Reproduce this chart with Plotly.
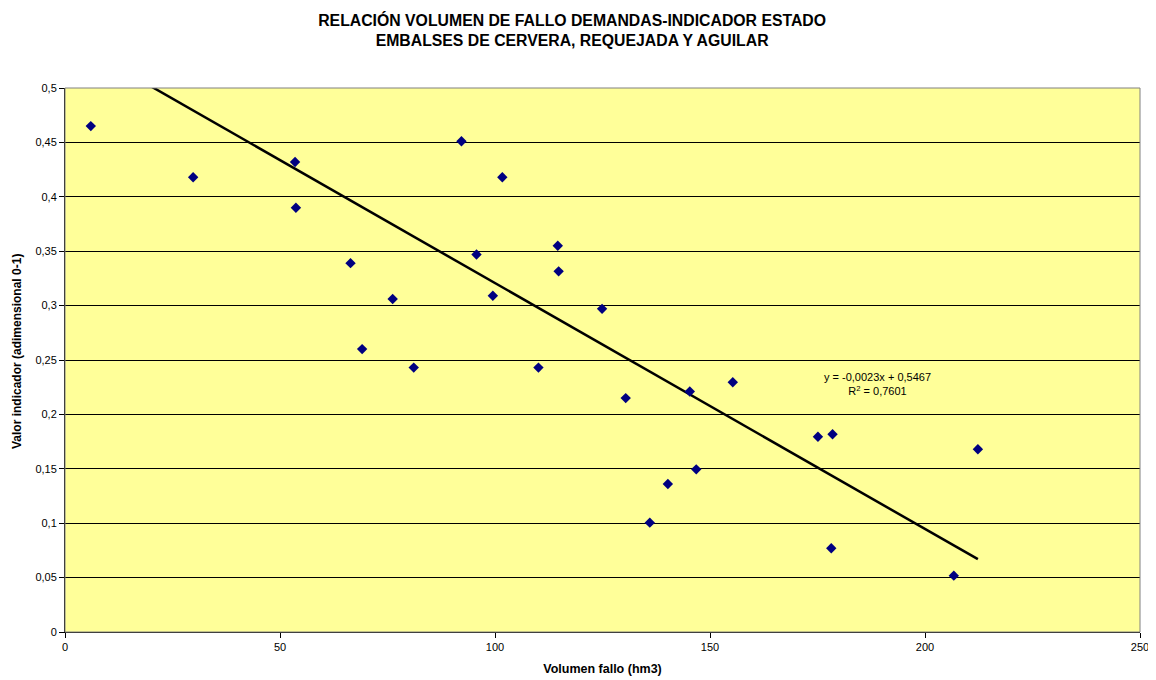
import numpy as np
import plotly.graph_objects as go

volumen_fallo = [6.0, 29.8, 53.5, 53.7, 66.4, 76.2, 69.1, 81.1, 92.2, 95.7, 99.5,
                 101.7, 110.1, 114.6, 114.8, 124.9, 130.4, 136.0, 140.2, 145.3,
                 146.8, 155.3, 175.1, 178.5, 178.2, 206.7, 212.3]
valor_indicador = [0.465, 0.418, 0.432, 0.390, 0.339, 0.306, 0.260, 0.243, 0.451,
                   0.347, 0.309, 0.418, 0.243, 0.355, 0.3315, 0.297, 0.215, 0.1005,
                   0.136, 0.221, 0.1495, 0.2295, 0.1795, 0.1817, 0.077, 0.0518, 0.168]

# Linear trend shown on the chart (y = -0,0023x + 0,5467)
trend_slope = -0.00226
trend_intercept = 0.5467

x_ticks = [0, 50, 100, 150, 200, 250]
y_ticks = [0, 0.05, 0.1, 0.15, 0.2, 0.25, 0.3, 0.35, 0.4, 0.45, 0.5]

title_text = ("RELACIÓN VOLUMEN DE FALLO DEMANDAS-INDICADOR ESTADO<br>"
              "EMBALSES DE CERVERA, REQUEJADA Y AGUILAR")
eq_text = "y = -0,0023x + 0,5467<br>R<sup>2</sup> = 0,7601"
x_title = "<b>Volumen fallo (hm3)</b>"
y_title = "<b>Valor indicador (adimensional 0-1)</b>"

xs = np.array(volumen_fallo)
trend_x = np.array([xs.min(), xs.max()])
trend_y = trend_slope * trend_x + trend_intercept

font_family = "Liberation Sans, Arial, sans-serif"

fig = go.Figure()
fig.add_trace(go.Scatter(
    x=trend_x, y=trend_y, mode="lines",
    line=dict(color="black", width=2.5), showlegend=False, hoverinfo="skip"))
fig.add_trace(go.Scatter(
    x=volumen_fallo, y=valor_indicador, mode="markers",
    marker=dict(symbol="diamond", size=8, color="#000080",
                line=dict(width=0)),
    showlegend=False))

fig.add_annotation(
    x=189.0, y=0.228, xref="x", yref="y", text=eq_text, showarrow=False,
    font=dict(family=font_family, size=11, color="black"), align="center")

fig.add_annotation(
    x=0, y=0.5, xref="paper", yref="paper", text=y_title, showarrow=False,
    textangle=-90, xanchor="center", yanchor="middle", xshift=-48, yshift=8,
    font=dict(family=font_family, size=12, color="black"))

fig.add_shape(type="rect", xref="paper", yref="paper", x0=0, y0=0, x1=1, y1=1,
              line=dict(color="#808080", width=1), layer="above")

fig.update_layout(
    width=1156, height=680,
    paper_bgcolor="white", plot_bgcolor="#FFFF99",
    separators=", ",
    margin=dict(l=57, r=24, t=80, b=56, autoexpand=False),
    font=dict(family=font_family, size=11, color="black"),
    title=dict(text=title_text, x=0.488, xref="container", xanchor="center",
               y=0.974, yref="container", yanchor="middle",
               font=dict(family=font_family, size=15.8, color="black",
                         weight="bold")),
    xaxis=dict(range=[0, 250], tickvals=x_ticks, showgrid=False, zeroline=False,
               showline=True, linecolor="black", linewidth=1, automargin=False,
               ticks="outside", ticklen=5, tickcolor="black",
               title=dict(text=x_title, standoff=12, font=dict(size=12.5))),
    yaxis=dict(range=[0, 0.5], tickvals=y_ticks, showgrid=True,
               gridcolor="black", gridwidth=1, zeroline=False, automargin=False,
               showline=True, linecolor="black", linewidth=1,
               ticks="outside", ticklen=5, tickcolor="black"),
)

fig.write_html("out.html")
